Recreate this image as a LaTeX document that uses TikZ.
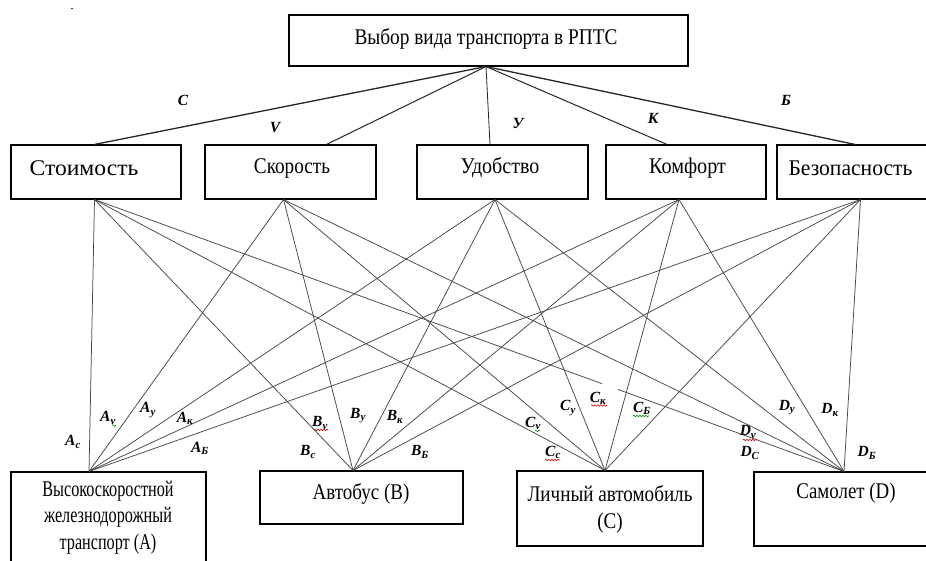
\documentclass[tikz,border=0pt]{standalone}
\usepackage{fontspec}
\usepackage{graphicx}
\setmainfont{Liberation Serif}
\usetikzlibrary{calc,decorations.pathmorphing}
\newcommand\mystretch[2]{\scalebox{#1}[1.12]{#2}}
\begin{document}
\begin{tikzpicture}[x=1pt,y=-1pt,
  box/.style={draw=black,line width=1.1pt,rectangle,inner sep=0pt},
  txt/.style={inner sep=0pt,font=\fontsize{20}{24}\selectfont},
  link/.style={draw=black!72,line width=0.75pt},
  toplink/.style={draw=black!85,line width=1pt},
  lab/.style={inner sep=0pt,font=\fontsize{15.5}{17}\selectfont\bfseries\itshape},
  redsq/.style={draw=red!85!black,line width=0.6pt,decorate,decoration={snake,segment length=3pt,amplitude=0.8pt}},
  greensq/.style={draw=green!55!black,line width=0.6pt,decorate,decoration={snake,segment length=3pt,amplitude=0.8pt}},
]
\clip (0,0) rectangle (926,561);
\fill[white] (0,0) rectangle (926,561);
\fill[black!80] (71.3,7.6) rectangle (73.3,8.8);

% top box
\node[box,minimum width=399pt,minimum height=51pt] (top) at (488.5,40.5) {};
\node[txt] (toptxt) at (486,39) {\mystretch{0.965}{Выбор вида транспорта в РПТС}};

% criteria
\node[box,minimum width=170pt,minimum height=54pt] (s1) at (96,172) {};
\node[box,minimum width=171pt,minimum height=54pt] (s2) at (290.5,172) {};
\node[box,minimum width=171pt,minimum height=54pt] (s3) at (502.5,172) {};
\node[box,minimum width=160pt,minimum height=54pt] (s4) at (686,172) {};
\node[box,minimum width=163pt,minimum height=54pt] (s5) at (858.5,172) {};
\node[txt] (s1t) at (84,168) {\mystretch{1.18}{Стоимость}};
\node[txt] (s2t) at (292,168) {\mystretch{0.96}{Скорость}};
\node[txt] (s3t) at (500,168) {\mystretch{1}{Удобство}};
\node[txt] (s4t) at (687.5,168) {\mystretch{1.01}{Комфорт}};
\node[txt] (s5t) at (850.5,168) {\mystretch{1.08}{Безопасность}};

% alternatives
\node[box,minimum width=195pt,minimum height=110pt] (A) at (108.5,527) {};
\node[box,minimum width=203pt,minimum height=53pt] (B) at (361.5,497.5) {};
\node[box,minimum width=186pt,minimum height=75pt] (C) at (610,508.5) {};
\node[box,minimum width=181pt,minimum height=74pt] (D) at (844.5,509) {};
\node[txt] (At1) at (108,491) {\mystretch{0.81}{Высокоскоростной}};
\node[txt] (At2) at (108,517.5) {\mystretch{0.81}{железнодорожный}};
\node[txt] (At3) at (108,544) {\mystretch{0.81}{транспорт (A)}};
\node[txt] (Bt) at (361,494) {\mystretch{0.95}{Автобус (B)}};
\node[txt] (Ct1) at (610,494) {\mystretch{0.955}{Личный автомобиль}};
\node[txt] (Ct2) at (610,523.5) {\mystretch{0.955}{(C)}};
\node[txt] (Dt) at (846,493) {\mystretch{0.945}{Самолет (D)}};

% attachment points
\coordinate (tb) at ([xshift=-2.5pt]top.south);
\coordinate (s1n) at ([xshift=-1.5pt]s1.north);
\coordinate (s2n) at ([xshift=36pt]s2.north);
\coordinate (s3n) at ([xshift=-12.5pt]s3.north);
\coordinate (s4n) at ([xshift=-19pt]s4.north);
\coordinate (s5n) at ([xshift=-3.5pt]s5.north);
\coordinate (s1s) at ([xshift=-1.5pt]s1.south);
\coordinate (s2s) at ([xshift=-7pt]s2.south);
\coordinate (s3s) at ([xshift=-7.5pt]s3.south);
\coordinate (s4s) at ([xshift=-7pt]s4.south);
\coordinate (s5s) at ([xshift=2pt]s5.south);
\coordinate (An) at ([xshift=-19.5pt]A.north);
\coordinate (Bn) at ([xshift=-8.5pt]B.north);
\coordinate (Cn) at ([xshift=-5pt]C.north);
\coordinate (Dn) at ([xshift=-0.5pt]D.north);

% top connectors
\draw[toplink,line width=1.3pt] (tb) -- (s1n);
\draw[toplink] (tb) -- (s2n);
\draw[toplink,line width=0.8pt] (tb) -- (s3n);
\draw[toplink] (tb) -- (s4n);
\draw[toplink,line width=1.3pt] (tb) -- (s5n);

% criteria -> alternatives
\foreach \a in {An,Bn,Cn} \draw[link] (s1s) -- (\a);
\draw[link] (s1s) -- ($(s1s)!0.677!(Dn)$);
\draw[link] ($(s1s)!0.6985!(Dn)$) -- (Dn);
\foreach \s in {s2s,s3s,s4s,s5s}
  \foreach \a in {An,Bn,Cn,Dn}
    \draw[link] (\s) -- (\a);

% top labels
\node[lab] (lC) at (183,100) {C};
\node[lab] (lV) at (275,128) {V};
\node[lab] (lU) at (518,123) {У};
\node[lab] (lK) at (653,118) {К};
\node[lab] (lB) at (786,100) {Б};

% bottom labels
\node[lab] (Ac) at (73,442) {A\textsubscript{с}};
\node[lab] (Av) at (108,418) {A\textsubscript{v}};
\node[lab] (Au) at (148,410) {A\textsubscript{у}};
\node[lab] (Ak) at (185,418) {A\textsubscript{к}};
\node[lab] (Ab) at (200,448) {A\textsubscript{Б}};
\node[lab] (Bv) at (320,423) {B\textsubscript{v}};
\node[lab] (Bu) at (358,416) {B\textsubscript{у}};
\node[lab] (Bk) at (395,417) {B\textsubscript{к}};
\node[lab] (Bc) at (308,452) {B\textsubscript{с}};
\node[lab] (Bb) at (420,452) {B\textsubscript{Б}};
\node[lab] (Cv) at (533,423) {C\textsubscript{v}};
\node[lab] (Cu) at (568,408) {C\textsubscript{у}};
\node[lab] (Ck) at (598,398) {C\textsubscript{к}};
\node[lab] (Cb) at (642,408) {C\textsubscript{Б}};
\node[lab] (Cc) at (553,452) {C\textsubscript{с}};
\node[lab] (Dv) at (748,432) {D\textsubscript{v}};
\node[lab] (Du) at (787,408) {D\textsubscript{у}};
\node[lab] (Dk) at (830,410) {D\textsubscript{к}};
\node[lab] (Dc) at (750,453) {D\textsubscript{С}};
\node[lab] (Db) at (867,453) {D\textsubscript{Б}};

% spell-check squiggles
\draw[greensq] (112,425.5) -- (116,425.5);
\draw[redsq] (314,430) -- (328,430);
\draw[greensq] (535,431) -- (540,431);
\draw[redsq] (591,405.5) -- (607,405.5);
\draw[greensq] (633,416) -- (649,416);
\draw[redsq] (545,460) -- (560,460);
\draw[redsq] (743,440) -- (757,440);
\end{tikzpicture}
\end{document}
